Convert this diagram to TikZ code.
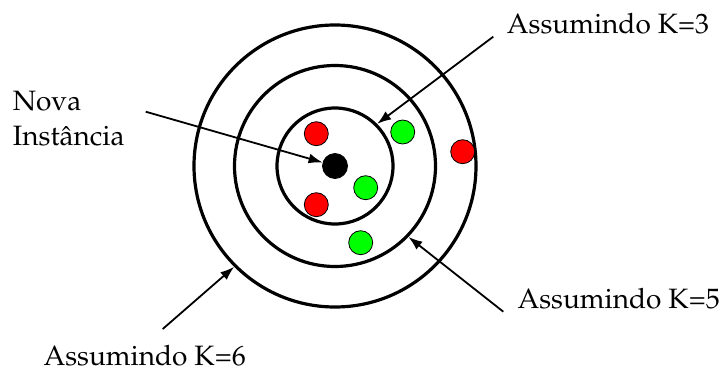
\documentclass[tikz,border=0pt]{standalone}
\usepackage[T1]{fontenc}
\usepackage{mathpazo}
\usetikzlibrary{arrows.meta}
\definecolor{dotred}{RGB}{255,0,0}
\definecolor{dotgreen}{RGB}{0,255,0}
\tikzset{
  ring/.style={circle, draw, line width=3.2pt, inner sep=0pt},
  pt/.style={circle, draw, line width=0.8pt, minimum size=24pt, inner sep=0pt},
  redpt/.style={pt, fill=dotred},
  greenpt/.style={pt, fill=dotgreen},
  lbl/.style={inner sep=0pt, font=\fontsize{28}{35}\selectfont},
  pointer/.style={line width=1.8pt, -{Latex[length=14pt,width=10pt]}}
}
\begin{document}
\begin{tikzpicture}[x=1pt,y=-1pt]
\useasboundingbox (0,0) rectangle (723,372);
% rings
\node[ring, minimum size=116pt] (c1) at (335,166) {};
\node[ring, minimum size=201pt] (c2) at (335,166) {};
\node[ring, minimum size=282pt] (c3) at (335,166) {};
% points
\node[pt, fill=black, minimum size=25pt] (new) at (335,166) {};
\node[redpt] (r1) at (316.3,133.7) {};
\node[greenpt] (g1) at (402.7,132) {};
\node[redpt] (r2) at (462.7,151.7) {};
\node[greenpt] (g2) at (365.7,187.7) {};
\node[redpt] (r3) at (316.3,204.7) {};
\node[greenpt] (g3) at (360.7,242.7) {};
% labels
\node[lbl, anchor=base west, align=left] (lnew) at (12.7,145) {Nova\\Inst\^ancia};
\node[lbl, anchor=base west] (l3) at (506.7,33.3) {Assumindo K=3};
\node[lbl, anchor=base west] (l5) at (517.3,308.3) {Assumindo K=5};
\node[lbl, anchor=base west] (l6) at (43.3,365) {Assumindo K=6};
% arrow starts
\coordinate (snew) at (145.7,111.7);
\coordinate (s3) at (493.3,36.7);
\coordinate (s5) at (503.3,311.7);
\coordinate (s6) at (162.7,329);
% arrows
\draw[pointer] (snew) -- (new);
\draw[pointer] (s3) -- (c1.45);
\draw[pointer] (s5) -- (c2.-44);
\draw[pointer] (s6) -- (c3.-135);
\end{tikzpicture}
\end{document}
